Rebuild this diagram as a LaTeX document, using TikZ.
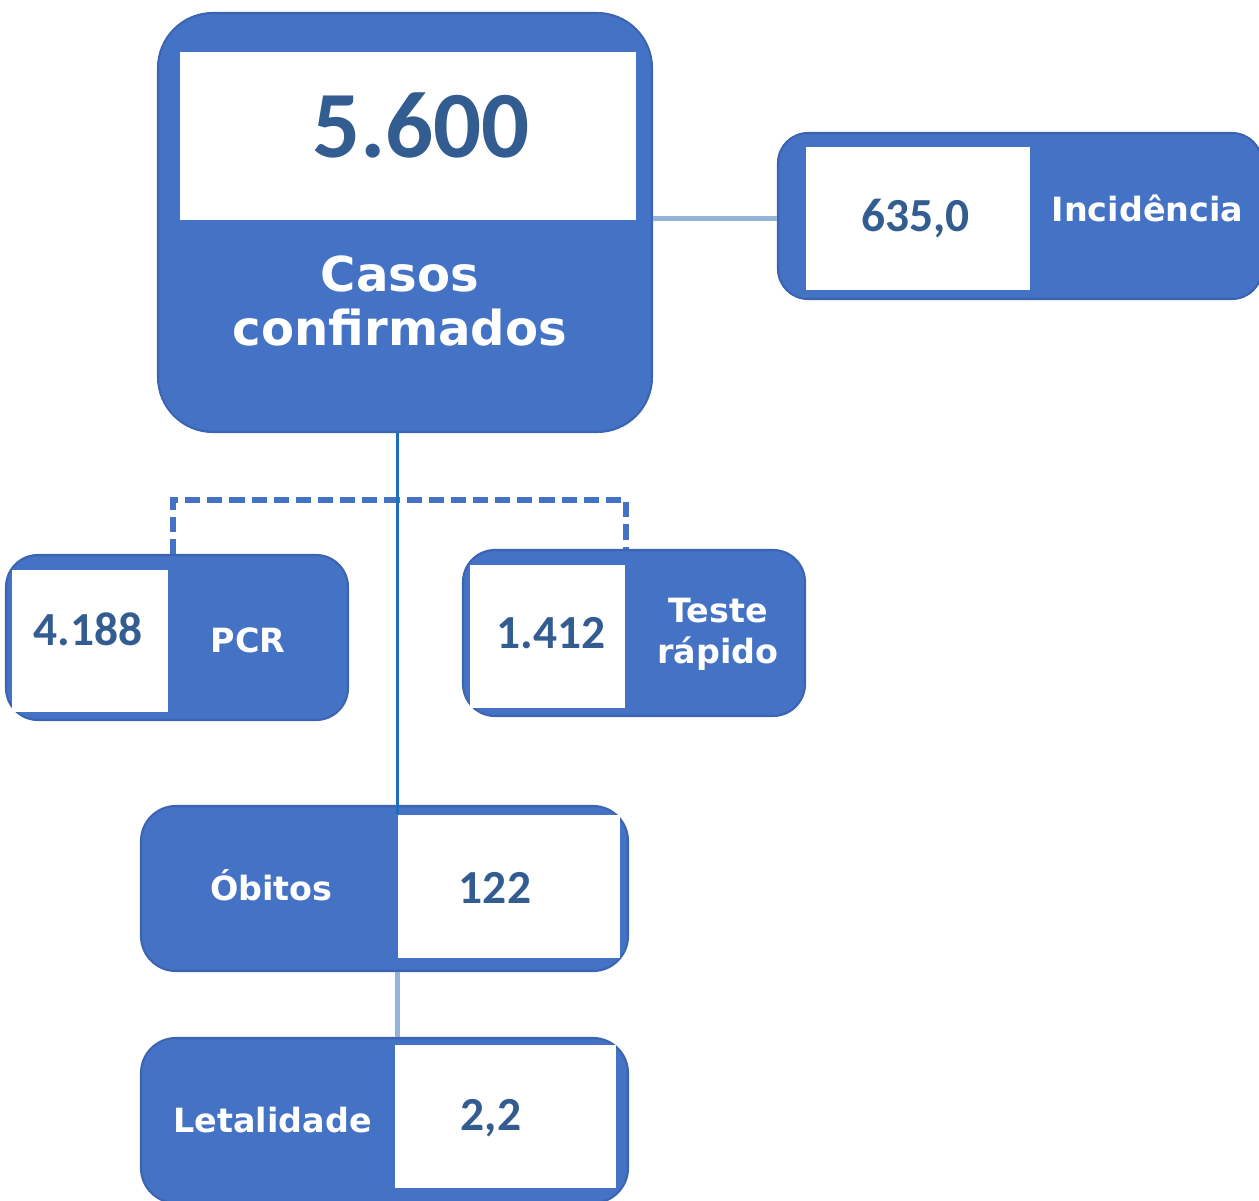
\documentclass[tikz,border=0pt]{standalone}
\usepackage{fontspec}
\setmainfont{Carlito}
\newfontfamily\rotulo{DejaVu Sans}
\definecolor{azul}{RGB}{68,114,196}
\definecolor{azulborda}{RGB}{60,100,178}
\definecolor{azulnum}{RGB}{51,92,145}
\definecolor{azulclaro}{RGB}{149,179,215}
\definecolor{azullinha}{RGB}{28,110,190}

\begin{document}
\begin{tikzpicture}[
  caixa/.style={fill=azul,draw=azulborda,line width=0.6pt,rounded corners=#1,inner sep=0pt},
  valor/.style={fill=white,inner sep=0pt},
  num/.style={text=azulnum,font=\bfseries\fontsize{13.5}{16}\selectfont,anchor=base,inner sep=0pt},
  rot/.style={text=white,font=\rotulo\bfseries\fontsize{9.5}{11.7}\selectfont,inner sep=0pt},
  ligclara/.style={azulclaro,line width=1.5pt},
  ligforte/.style={azullinha,line width=0.9pt},
  tracejado/.style={azul,line width=1.6pt,dash pattern=on 4.3pt off 2pt}
]
\useasboundingbox (0,0) rectangle (12.59,12);

\node[caixa=0.55cm,minimum width=4.94cm,minimum height=4.19cm] (casos) at (4.05,9.775) {};
\node[valor,minimum width=4.56cm,minimum height=1.68cm] (casosval) at (4.08,10.64) {};
\node[num,font=\bfseries\fontsize{27}{30}\selectfont] (casosnum) at (4.21,10.42) {5.600};
\node[rot,font=\rotulo\bfseries\fontsize{13.7}{15.3}\selectfont,align=center] (casoslbl) at (4.00,8.99) {Casos\\confirmados};

\node[caixa=0.3cm,minimum width=4.84cm,minimum height=1.66cm] (incid) at (10.2,9.84) {};
\node[valor,minimum width=2.24cm,minimum height=1.43cm] (incidval) at (9.18,9.815) {};
\node[num] (incidnum) at (9.155,9.68) {635,0};
\node[rot,anchor=base] (incidlbl) at (11.475,9.78) {Incidência};

\node[caixa=0.32cm,minimum width=3.42cm,minimum height=1.65cm] (pcr) at (1.77,5.625) {};
\node[valor,minimum width=1.56cm,minimum height=1.42cm] (pcrval) at (0.90,5.59) {};
\node[num] (pcrnum) at (0.88,5.55) {4.188};
\node[rot,anchor=base] (pcrlbl) at (2.48,5.48) {PCR};

\node[caixa=0.32cm,minimum width=3.42cm,minimum height=1.66cm] (teste) at (6.34,5.67) {};
\node[valor,minimum width=1.55cm,minimum height=1.43cm] (testeval) at (5.475,5.635) {};
\node[num] (testenum) at (5.51,5.52) {1.412};
\node[rot,align=center] (testelbl) at (7.18,5.66) {Teste\\rápido};

\node[caixa=0.35cm,minimum width=4.87cm,minimum height=1.65cm] (obitos) at (3.845,3.115) {};
\node[valor,minimum width=2.22cm,minimum height=1.43cm] (obitosval) at (5.09,3.135) {};
\node[num] (obitosnum) at (4.95,2.97) {122};
\node[rot,anchor=base] (obitoslbl) at (2.715,3.00) {Óbitos};

\node[caixa=0.35cm,minimum width=4.87cm,minimum height=1.65cm] (letal) at (3.845,0.795) {};
\node[valor,minimum width=2.21cm,minimum height=1.43cm] (letalval) at (5.055,0.835) {};
\node[num] (letalnum) at (4.91,0.70) {2,2};
\node[rot,anchor=base] (letallbl) at (2.725,0.68) {Letalidade};

\coordinate (ramo) at (3.98,7.0);
\draw[ligclara] (incid.west |- incidval) -- (casos.east |- incidval);
\draw[tracejado] ([xshift=0.04cm]pcr.north -| pcrval.east) |- (ramo) -| (teste.north -| testeval.east);
\draw[ligforte] (casos.south -| obitosval.north west) -- (obitosval.north west);
\draw[ligclara] (obitos.south -| obitosval.west) -- (letal.north -| obitosval.west);
\end{tikzpicture}
\end{document}
